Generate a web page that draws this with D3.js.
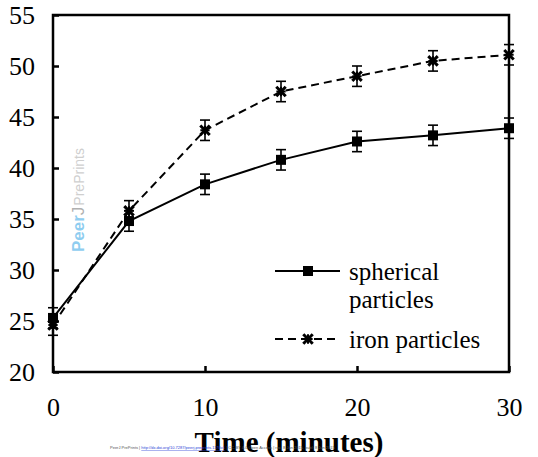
<!DOCTYPE html>
<html><head><meta charset="utf-8">
<script src="https://cdn.jsdelivr.net/npm/d3@7"></script>
<style>body{margin:0;background:#fff}svg{display:block}</style>
</head><body>
<svg id="c" width="538" height="457"></svg>
<script>
const times = [0, 5, 10, 15, 20, 25, 30];
const spherical = [25.3, 34.8, 38.4, 40.8, 42.6, 43.2, 43.9];
const sphericalErr = [1.0, 1.0, 1.0, 1.0, 1.0, 1.0, 1.0];
const iron = [24.6, 35.8, 43.7, 47.5, 49.0, 50.5, 51.1];
const ironErr = [1.0, 1.0, 1.0, 1.0, 1.0, 1.0, 1.0];
const yTicks = [20, 25, 30, 35, 40, 45, 50, 55];
const xTicks = [0, 10, 20, 30];
const seriesNames = ["spherical particles", "iron particles"];

const svg = d3.select("#c");
const L = 53, R = 509, T = 15, B = 372;
const x = d3.scaleLinear().domain([0, 30]).range([L, R]);
const y = d3.scaleLinear().domain([20, 55]).range([B, T]);
const serif = '"Liberation Serif", "DejaVu Serif", serif';

// watermark
const wm = svg.append("text").attr("transform", "translate(84,252) rotate(-90)")
  .style("font-family", '"Liberation Sans", Arial, sans-serif');
wm.append("tspan").attr("font-size", 17).attr("font-weight", "bold").attr("fill", "#8fcdf0").text("Peer");
wm.append("tspan").attr("font-size", 17).attr("fill", "#b0b0b0").text("J");
wm.append("tspan").attr("font-size", 14).attr("fill", "#cfcfcf").attr("dx", 1).text("PrePrints");

// frame
svg.append("rect").attr("x", L).attr("y", T).attr("width", R - L).attr("height", B - T)
  .attr("fill", "none").attr("stroke", "#000").attr("stroke-width", 2.5);

function styleText(sel, size, weight) {
  sel.style("font-family", serif).style("font-size", size + "px").style("font-weight", weight || "400").attr("fill", "#000");
}

// y axis (ticks inside)
const yAxis = d3.axisLeft(y).tickValues(yTicks).tickSize(-6).tickPadding(18).tickFormat(d3.format("d"));
const gy = svg.append("g").attr("transform", `translate(${L},0)`).call(yAxis);
gy.select(".domain").remove();
gy.selectAll(".tick line").attr("stroke-width", 2.5);
styleText(gy.selectAll("text"), 26);

// x axis (ticks inside)
const xAxis = d3.axisBottom(x).tickValues(xTicks).tickSize(-6).tickPadding(26).tickFormat(d3.format("d"));
const gx = svg.append("g").attr("transform", `translate(0,${B})`).call(xAxis);
gx.select(".domain").remove();
gx.selectAll(".tick line").attr("stroke-width", 2.5);
styleText(gx.selectAll("text"), 26);

// axis title
styleText(svg.append("text").attr("x", 289).attr("y", 452).attr("text-anchor", "middle").text("Time (minutes)"), 29, "700");

// tiny footer
const ft = svg.append("text").attr("x", 110).attr("y", 449).style("font-family", '"Liberation Sans", Arial, sans-serif').style("font-size", "4px");
ft.append("tspan").attr("fill", "#555").text("PeerJ PrePrints | ");
ft.append("tspan").attr("fill", "#2b3fd6").attr("text-decoration", "underline").text("http://dx.doi.org/10.7287/peerj.preprints.1170v1");
ft.append("tspan").attr("fill", "#555").text(" | CC-BY 4.0 Open Access | rec: 8 Jun 2015, publ: 8 Jun 2015");

const line = d3.line().x((d, i) => x(times[i])).y(d => y(d));

function drawSeries(vals, errs, dash, sym) {
  const g = svg.append("g");
  g.append("path").datum(vals).attr("d", line).attr("fill", "none").attr("stroke", "#000")
    .attr("stroke-width", 2).attr("stroke-dasharray", dash);
  vals.forEach((v, i) => {
    const cx = x(times[i]);
    const e = errs[i];
    g.append("line").attr("x1", cx).attr("x2", cx).attr("y1", y(v - e)).attr("y2", y(v + e)).attr("stroke", "#000").attr("stroke-width", 1.6);
    [v - e, v + e].forEach(t => g.append("line").attr("x1", cx - 5).attr("x2", cx + 5).attr("y1", y(t)).attr("y2", y(t)).attr("stroke", "#000").attr("stroke-width", 1.6));
  });
  vals.forEach((v, i) => drawMarker(g, x(times[i]), y(v), sym));
}
function drawMarker(g, cx, cy, sym) {
  if (sym === "square") {
    g.append("rect").attr("x", cx - 5).attr("y", cy - 5).attr("width", 10).attr("height", 10).attr("fill", "#000");
  } else {
    g.append("path").attr("transform", `translate(${cx},${cy})`)
      .attr("d", d3.symbol(d3.symbolTimes, 60)()).attr("fill", "none").attr("stroke", "#000").attr("stroke-width", 3);
    g.append("path").attr("transform", `translate(${cx},${cy})`)
      .attr("d", d3.symbol(d3.symbolPlus, 30)()).attr("fill", "none").attr("stroke", "#000").attr("stroke-width", 2);
  }
}
drawSeries(spherical, sphericalErr, null, "square");
drawSeries(iron, ironErr, "8,5", "x");

// legend
const lg = svg.append("g");
lg.append("line").attr("x1", 275).attr("x2", 340).attr("y1", 271).attr("y2", 271).attr("stroke", "#000").attr("stroke-width", 2);
drawMarker(lg, 308, 271, "square");
styleText(lg.append("text").attr("x", 349).attr("y", 280).text("spherical"), 25);
styleText(lg.append("text").attr("x", 349).attr("y", 308).text("particles"), 25);
lg.append("line").attr("x1", 275).attr("x2", 340).attr("y1", 339).attr("y2", 339).attr("stroke", "#000").attr("stroke-width", 2).attr("stroke-dasharray", "8,5");
drawMarker(lg, 308, 339, "x");
styleText(lg.append("text").attr("x", 349).attr("y", 348).text(seriesNames[1]), 25);
</script>
</body></html>
